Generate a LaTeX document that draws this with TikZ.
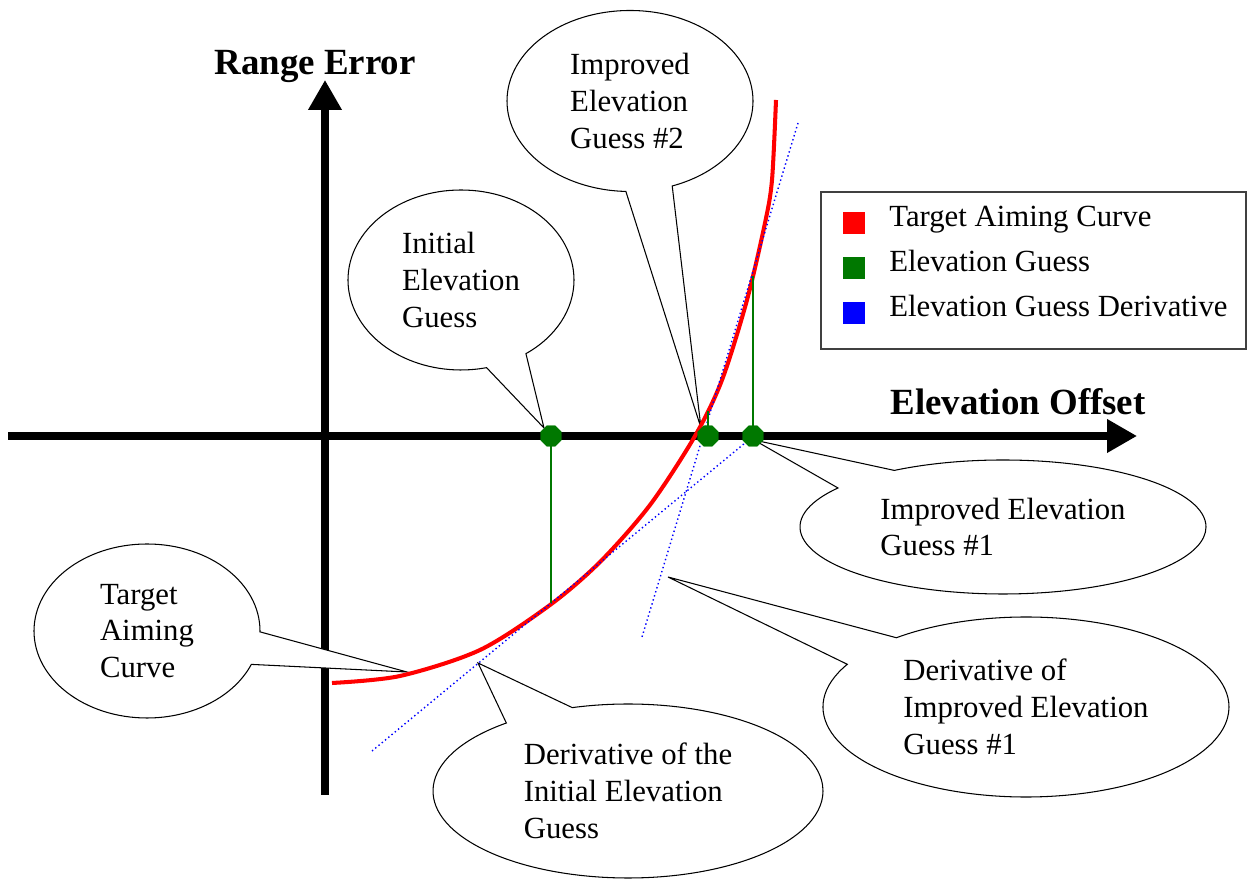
\documentclass[tikz,border=0pt]{standalone}
\usepackage{fontspec}
\setmainfont{Liberation Serif}
\usepackage{xcolor}
\usetikzlibrary{arrows.meta,shapes.geometric,shapes.callouts}
\definecolor{guessgreen}{RGB}{0,120,0}

\begin{document}
\begin{tikzpicture}[
  % Node Styles
  callout/.style={ellipse callout, draw, fill=white, line width=0.6pt, align=left, inner sep=1pt, callout pointer arc=22},
  guessdot/.style={regular polygon, regular polygon sides=8, fill=guessgreen, minimum size=0.45cm, inner sep=0pt},
  keybox/.style={rectangle, minimum size=0.44cm, inner sep=0pt},
  keytext/.style={anchor=base west, inner sep=0pt},
  axislabel/.style={font=\fontsize{21}{25}\selectfont\bfseries},
  % Line Styles
  axisline/.style={line width=4pt, -{Triangle[length=0.6cm, width=0.64cm]}},
  aimcurve/.style={red, line width=2.3pt},
  tangentline/.style={blue, line width=0.8pt, dash pattern=on 0.8pt off 1.6pt},
  guessline/.style={guessgreen, line width=0.8pt}
]
\tikzset{font=\fontsize{17.5}{21}\selectfont}

\useasboundingbox (0,0) rectangle (24.96,17.64);

% Diagram for: elevation search

\draw[axisline] (6.50,1.74) -- (6.50,16.04);
\draw[axisline] (0.16,8.92) -- (22.74,8.92);
\node[axislabel] (yLabel) at (6.30,16.30) {Range Error};
\node[axislabel] (xLabel) at (20.36,9.60) {Elevation Offset};

\coordinate (tipInit) at (10.88,9.08);
\coordinate (tipGuess2) at (14.02,9.08);
\coordinate (tipGuess1) at (15.08,8.84);
\coordinate (tipCurve) at (8.14,4.20);
\coordinate (tipDerivInit) at (9.56,4.38);
\coordinate (tipDerivGuess1) at (13.36,6.10);

\node[callout, minimum width=4.52cm, minimum height=3.60cm, callout absolute pointer={(tipInit)}] (C_init) at (9.22,12.04) {Initial\\Elevation\\Guess};
\node[callout, minimum width=4.92cm, minimum height=3.62cm, callout absolute pointer={(tipGuess2)}] (C_guess2) at (12.60,15.62) {Improved\\Elevation\\Guess \#2};
\node[callout, minimum width=4.52cm, minimum height=3.48cm, callout absolute pointer={(tipCurve)}] (C_curve) at (2.94,5.02) {Target\\Aiming\\Curve};
\node[callout, minimum width=7.80cm, minimum height=3.48cm, callout absolute pointer={(tipDerivInit)}] (C_derivInit) at (12.56,1.82) {Derivative of the\\Initial Elevation\\Guess};
\node[callout, minimum width=8.12cm, minimum height=2.68cm, callout absolute pointer={(tipGuess1)}] (C_guess1) at (20.06,7.10) {Improved Elevation\\Guess \#1};
\node[callout, minimum width=8.12cm, minimum height=3.60cm, callout absolute pointer={(tipDerivGuess1)}] (C_derivGuess1) at (20.52,3.50) {Derivative of\\Improved Elevation\\Guess \#1};

\draw[aimcurve] plot[smooth] coordinates {(6.64,3.98) (8.00,4.12) (9.60,4.64) (11.00,5.54) (12.00,6.40) (13.00,7.54) (13.90,8.92) (14.44,10.04) (14.94,11.64) (15.30,13.18) (15.44,14.04) (15.52,15.64)};

\coordinate (T1a) at (7.44,2.62);
\coordinate (T1b) at (14.90,8.78);
\coordinate (T2a) at (15.96,15.18);
\coordinate (T2b) at (12.84,4.90);
\draw[tangentline] (T1a) -- (T1b);
\draw[tangentline] (T2a) -- (T2b);

\coordinate (E1) at (11.02,5.58);
\coordinate (E2) at (14.16,9.42);
\coordinate (E3) at (15.06,12.12);
\node[guessdot] (G1) at (11.02,8.92) {};
\node[guessdot] (G2) at (14.16,8.92) {};
\node[guessdot] (G3) at (15.06,8.92) {};
\draw[guessline] (G1.center) -- (E1);
\draw[guessline] (G2.center) -- (E2);
\draw[guessline] (G3.center) -- (E3);
\node[guessdot] at (G1) {};
\node[guessdot] at (G2) {};
\node[guessdot] at (G3) {};

\node[draw=black!75, line width=1.2pt, minimum width=8.50cm, minimum height=3.14cm] (legend) at (20.67,12.23) {};
\node[keybox, fill=red] (keyRed) at (17.08,13.17) {};
\node[keytext] (keyRedText) at (17.78,13.10) {Target Aiming Curve};
\node[keybox, fill=guessgreen] (keyGreen) at (17.08,12.27) {};
\node[keytext] (keyGreenText) at (17.78,12.20) {Elevation Guess};
\node[keybox, fill=blue] (keyBlue) at (17.08,11.38) {};
\node[keytext] (keyBlueText) at (17.78,11.30) {Elevation Guess Derivative};

\end{tikzpicture}
\end{document}
